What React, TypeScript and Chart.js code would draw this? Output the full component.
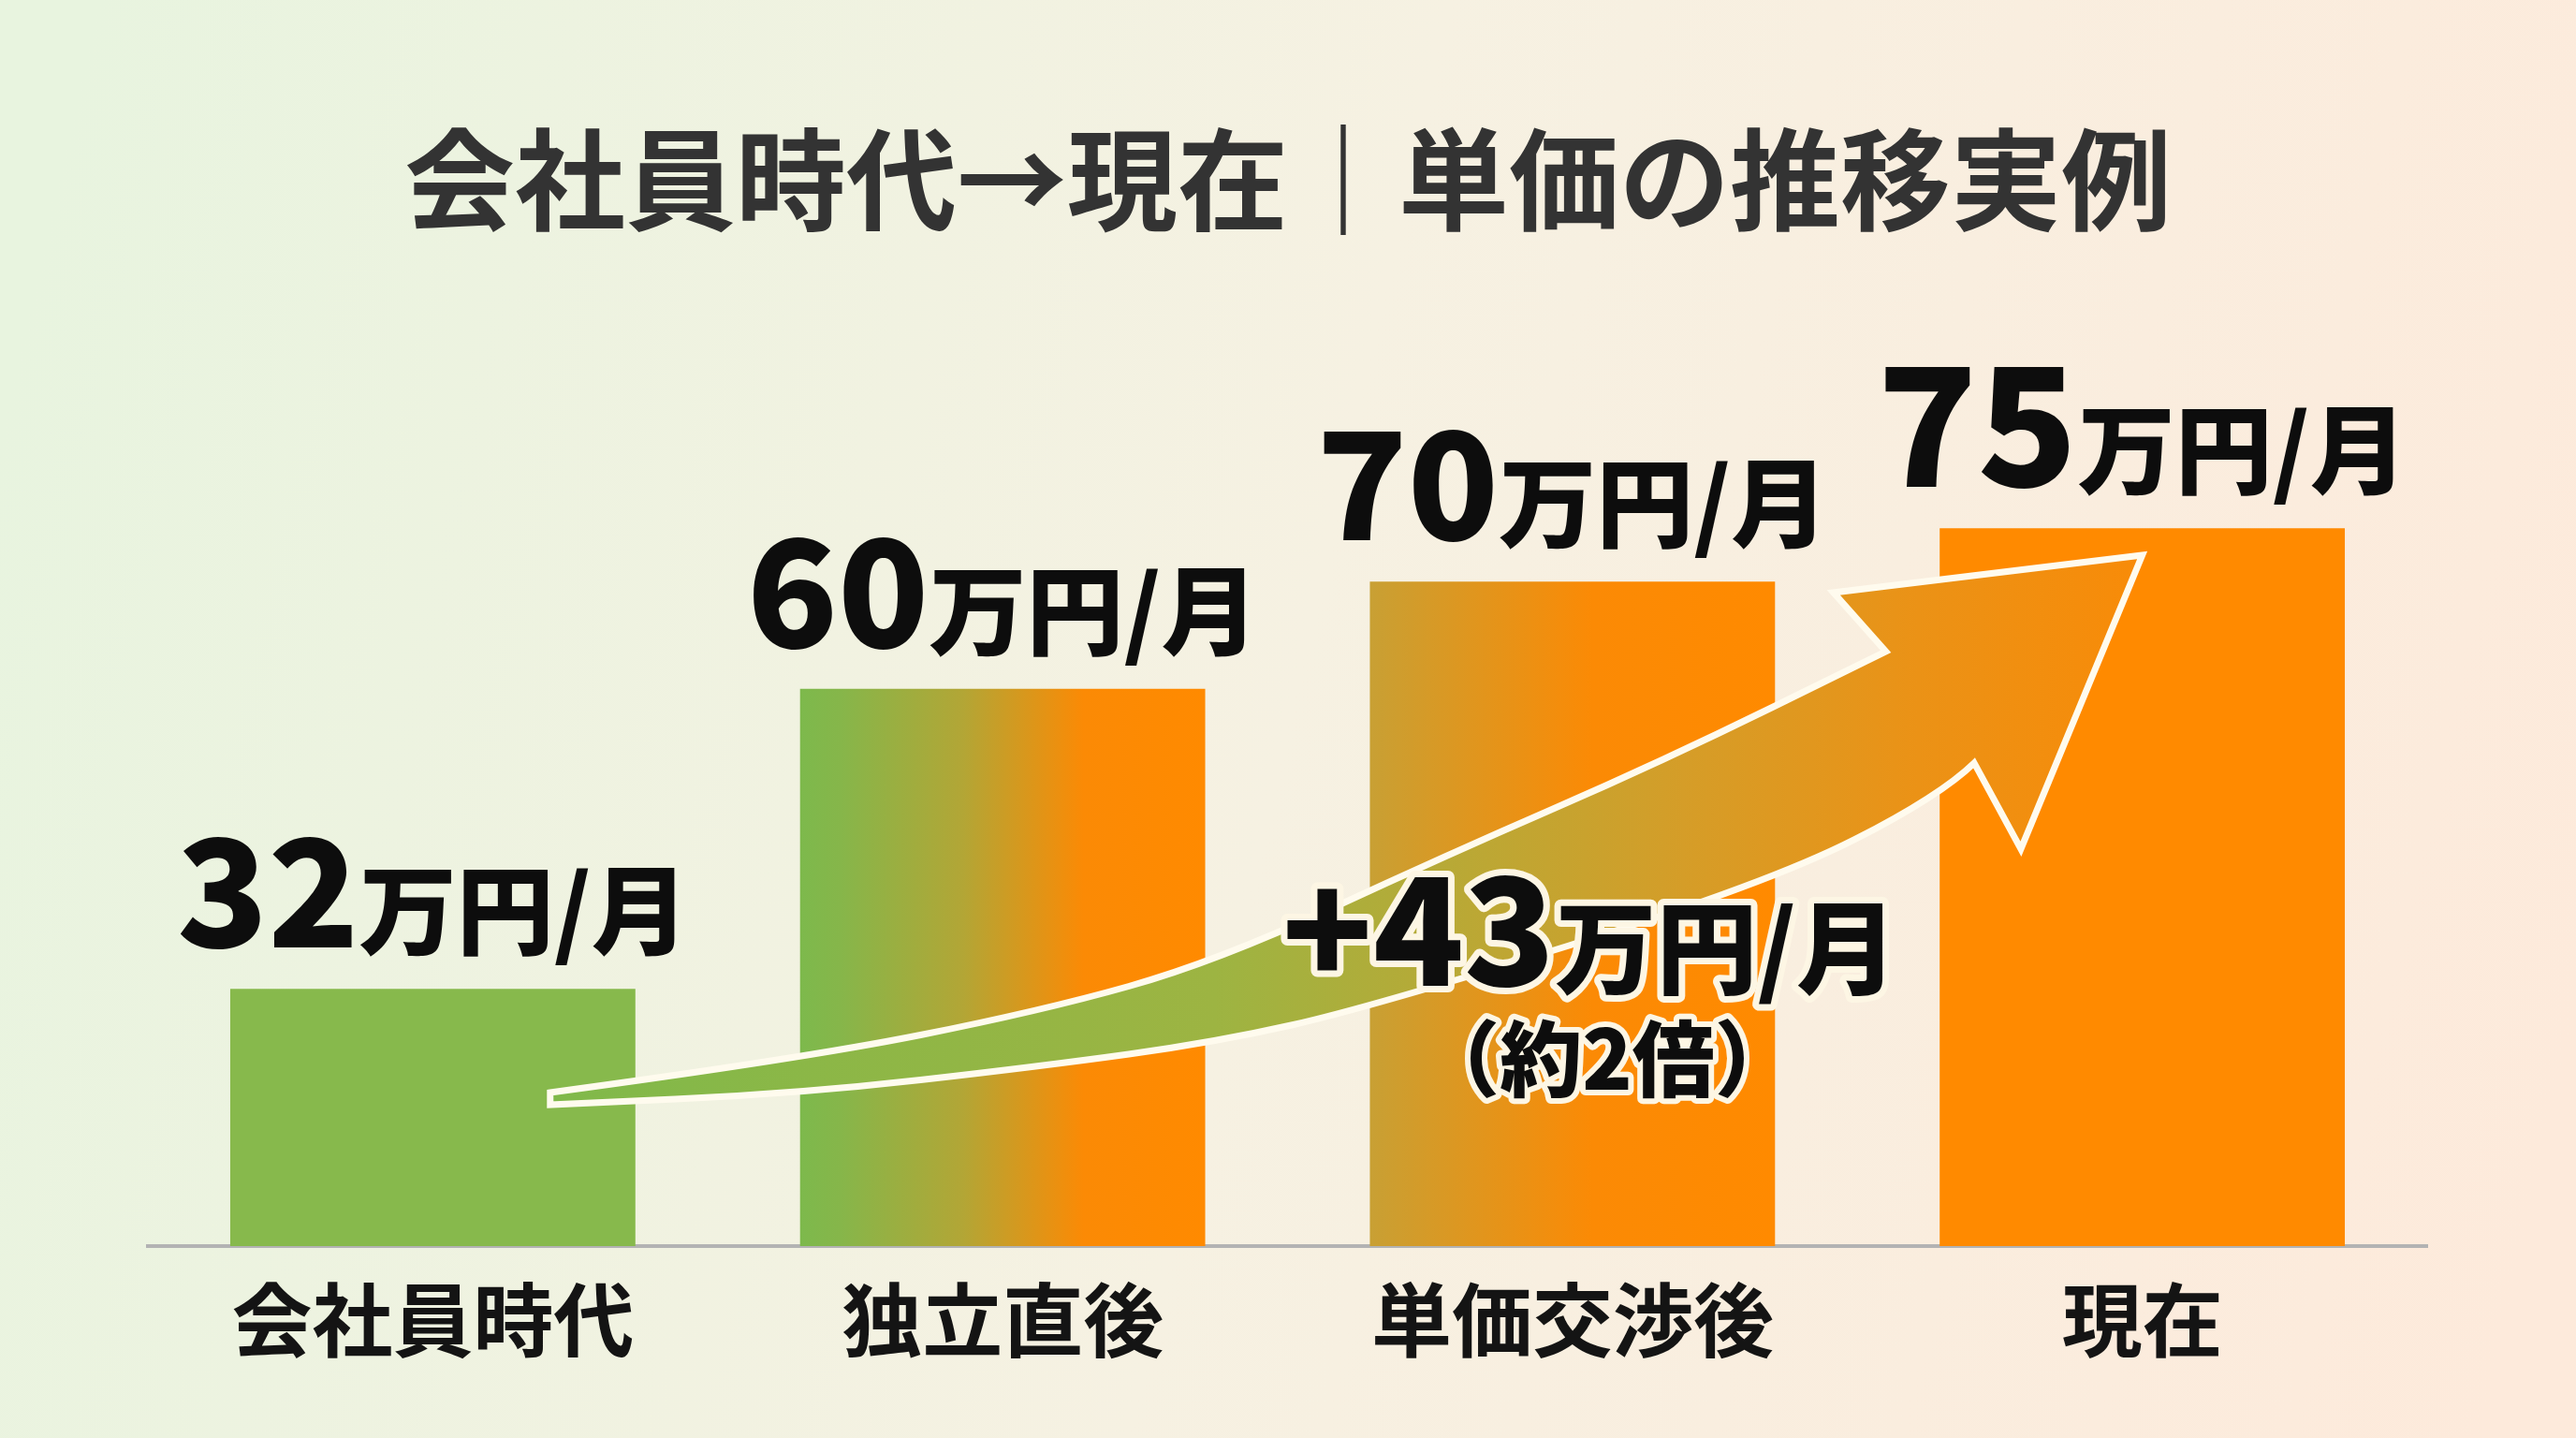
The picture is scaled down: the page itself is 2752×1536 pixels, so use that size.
import React, { useEffect, useRef } from "react";
import { Chart, registerables } from "chart.js";

Chart.register(...registerables);

// ---------- data ----------
const categories = ["会社員時代", "独立直後", "単価交渉後", "現在"];
const monthlyRates = [32, 60, 70, 75]; // 万円/月
const valueUnit = "万円/月";
const titleText = "会社員時代→現在｜単価の推移実例";
const gainNumber = "+43";
const gainUnit = "万円/月";
const gainNote = "（約2倍）";
const yMin = 8;
const yMax = 100;

// ---------- decoration geometry, in data space [category index, value] ----------
const arrowUpperEdge = [
  [0.206, 22.33], [0.645, 25.47], [1.067, 29.93], [1.376, 34.56],
  [1.777, 44.43], [2.155, 53.17], [2.55, 63.48],
];
const arrowLowerEdge = [
  [0.206, 21.19], [0.645, 22.24], [1.067, 24.78], [1.376, 27.05],
  [1.645, 30.28], [2.343, 41.81], [2.646, 50.03], [2.705, 53.09],
];
const arrowHeadPts = [[2.458, 68.99], [3.0, 72.48], [2.787, 45.05]];
const gainAnchor = [2.03, 32.3];
const noteAnchor = [2.061, 25.5];

// ---------- styles ----------
const FONT = '"Noto Sans CJK JP", "Noto Sans", sans-serif';
const BAR_PCT = 0.711;
const barStops: [number, string][][] = [
  [[0, "#87b94c"], [1, "#87b94c"]],
  [[0, "#7db94c"], [0.1, "#86b64a"], [0.4, "#b2a636"], [0.7, "#fb8a05"], [1, "#ff8a00"]],
  [[0, "#c8a034"], [0.55, "#fb8a05"], [1, "#ff8a00"]],
  [[0, "#ff8a00"], [1, "#ff8a00"]],
];
const arrowStops: [number, string][] = [
  [0, "#80b94a"], [0.418, "#9db442"], [0.565, "#b8a936"],
  [0.712, "#d59d28"], [0.859, "#eb9216"], [1, "#f88b08"],
];

function smoothEdge(ctx: CanvasRenderingContext2D, pts: number[][], first: boolean) {
  if (first) ctx.moveTo(pts[0][0], pts[0][1]);
  else ctx.lineTo(pts[0][0], pts[0][1]);
  for (let i = 1; i < pts.length - 1; i++) {
    const mx = (pts[i][0] + pts[i + 1][0]) / 2;
    const my = (pts[i][1] + pts[i + 1][1]) / 2;
    ctx.quadraticCurveTo(pts[i][0], pts[i][1], mx, my);
  }
  const l = pts[pts.length - 1];
  ctx.lineTo(l[0], l[1]);
}

const decorPlugin = {
  id: "decor",
  beforeDraw(chart: any) {
    const { ctx, width, height } = chart;
    ctx.save();
    const g = ctx.createLinearGradient(0, height * 0.3, width, height * 0.7);
    g.addColorStop(0, "#e8f4df");
    g.addColorStop(0.5, "#f6f1e2");
    g.addColorStop(1, "#fdeadb");
    ctx.fillStyle = g;
    ctx.fillRect(0, 0, width, height);
    // title
    ctx.fillStyle = "#333333";
    ctx.font = `700 118px ${FONT}`;
    ctx.textAlign = "center";
    ctx.textBaseline = "middle";
    ctx.fillText(titleText, width / 2, 192);
    ctx.restore();
  },
  afterDatasetsDraw(chart: any) {
    const { ctx } = chart;
    const xs = chart.scales.x;
    const ys = chart.scales.y;
    const P = (p: number[]) => [xs.getPixelForValue(p[0]), ys.getPixelForValue(p[1])];

    // --- arrow ---
    const up = arrowUpperEdge.map(P);
    const lo = arrowLowerEdge.map(P).reverse();
    const head = arrowHeadPts.map(P);
    const x0 = up[0][0];
    const x1 = head[1][0];
    if (isFinite(x0) && isFinite(x1)) {
      ctx.save();
      ctx.beginPath();
      smoothEdge(ctx, up, true);
      head.forEach((h) => ctx.lineTo(h[0], h[1]));
      smoothEdge(ctx, lo, false);
      ctx.closePath();
      const ag = ctx.createLinearGradient(x0, 0, x1, 0);
      arrowStops.forEach(([o, c]) => ag.addColorStop(o, c));
      ctx.fillStyle = ag;
      ctx.fill();
      ctx.lineWidth = 7;
      ctx.lineJoin = "miter";
      ctx.strokeStyle = "#fffbee";
      ctx.stroke();
      ctx.restore();
    }

    // --- value labels ---
    const meta = chart.getDatasetMeta(0);
    meta.data.forEach((bar: any, i: number) => {
      const numSize = i === 3 ? 176 : 160;
      const unitSize = 104;
      const num = String(monthlyRates[i]);
      ctx.save();
      ctx.textBaseline = "alphabetic";
      ctx.textAlign = "left";
      ctx.font = `900 ${numSize}px ${FONT}`;
      const wN = ctx.measureText(num).width;
      ctx.font = `900 ${unitSize}px ${FONT}`;
      const wU = ctx.measureText(valueUnit).width;
      const left = bar.x - (wN + wU) / 2;
      const base = bar.y - 44;
      ctx.fillStyle = "#0d0d0d";
      ctx.font = `900 ${numSize}px ${FONT}`;
      ctx.fillText(num, left, base);
      ctx.font = `900 ${unitSize}px ${FONT}`;
      ctx.fillText(valueUnit, left + wN, base);
      ctx.restore();
    });

    // --- gain annotation with halo ---
    const ga = P(gainAnchor);
    const na = P(noteAnchor);
    ctx.save();
    ctx.lineJoin = "round";
    ctx.strokeStyle = "#fdf6e4";
    ctx.fillStyle = "#0d0d0d";
    ctx.textAlign = "left";
    ctx.textBaseline = "alphabetic";
    ctx.font = `900 160px ${FONT}`;
    const w1 = ctx.measureText(gainNumber).width;
    ctx.font = `900 108px ${FONT}`;
    const w2 = ctx.measureText(gainUnit).width;
    const gl = ga[0] - (w1 + w2) / 2;
    ctx.lineWidth = 14;
    ctx.font = `900 160px ${FONT}`;
    ctx.strokeText(gainNumber, gl, ga[1]);
    ctx.font = `900 108px ${FONT}`;
    ctx.strokeText(gainUnit, gl + w1, ga[1]);
    ctx.font = `900 160px ${FONT}`;
    ctx.fillText(gainNumber, gl, ga[1]);
    ctx.font = `900 108px ${FONT}`;
    ctx.fillText(gainUnit, gl + w1, ga[1]);
    ctx.font = `900 88px ${FONT}`;
    ctx.textAlign = "center";
    ctx.textBaseline = "middle";
    ctx.lineWidth = 12;
    ctx.strokeText(gainNote, na[0], na[1]);
    ctx.fillText(gainNote, na[0], na[1]);
    ctx.restore();
  },
};

export default function App() {
  const ref = useRef<HTMLCanvasElement>(null);
  useEffect(() => {
    if (!ref.current) return;
    const chart = new Chart(ref.current, {
      type: "bar",
      data: {
        labels: categories,
        datasets: [
          {
            data: monthlyRates,
            barPercentage: BAR_PCT,
            categoryPercentage: 1,
            borderWidth: 0,
            backgroundColor: (c: any) => {
              const chart = c.chart;
              const xs = chart.scales?.x;
              const i = c.dataIndex;
              if (!xs || i == null || c.type !== "data") return "#ff8a00";
              const cx = xs.getPixelForValue(i);
              const nx = xs.getPixelForValue(i + 1);
              if (!isFinite(cx) || !isFinite(nx)) return barStops[i][0][1];
              const half = ((nx - cx) * BAR_PCT) / 2;
              const g = chart.ctx.createLinearGradient(cx - half, 0, cx + half, 0);
              barStops[i].forEach(([o, col]) => g.addColorStop(o, col));
              return g;
            },
          },
        ],
      },
      options: {
        responsive: true,
        maintainAspectRatio: false,
        animation: false,
        layout: { padding: { left: 158, right: 159, top: 278, bottom: 0 } },
        plugins: {
          legend: { display: false },
          tooltip: { enabled: false },
          title: { display: false },
        },
        scales: {
          x: {
            grid: { display: false, drawTicks: false },
            border: { display: true, color: "#b3b3b3", width: 4 },
            ticks: {
              color: "#141414",
              padding: 28,
              font: { family: FONT, size: 86, weight: "bold" },
            },
            afterFit: (s: any) => {
              s.height = 205;
            },
          },
          y: { display: false, min: yMin, max: yMax },
        },
      },
      plugins: [decorPlugin],
    } as any);
    return () => chart.destroy();
  }, []);
  return (
    <div style={{ position: "fixed", left: 0, top: 0, width: 2752, height: 1536 }}>
      <canvas ref={ref} />
    </div>
  );
}
